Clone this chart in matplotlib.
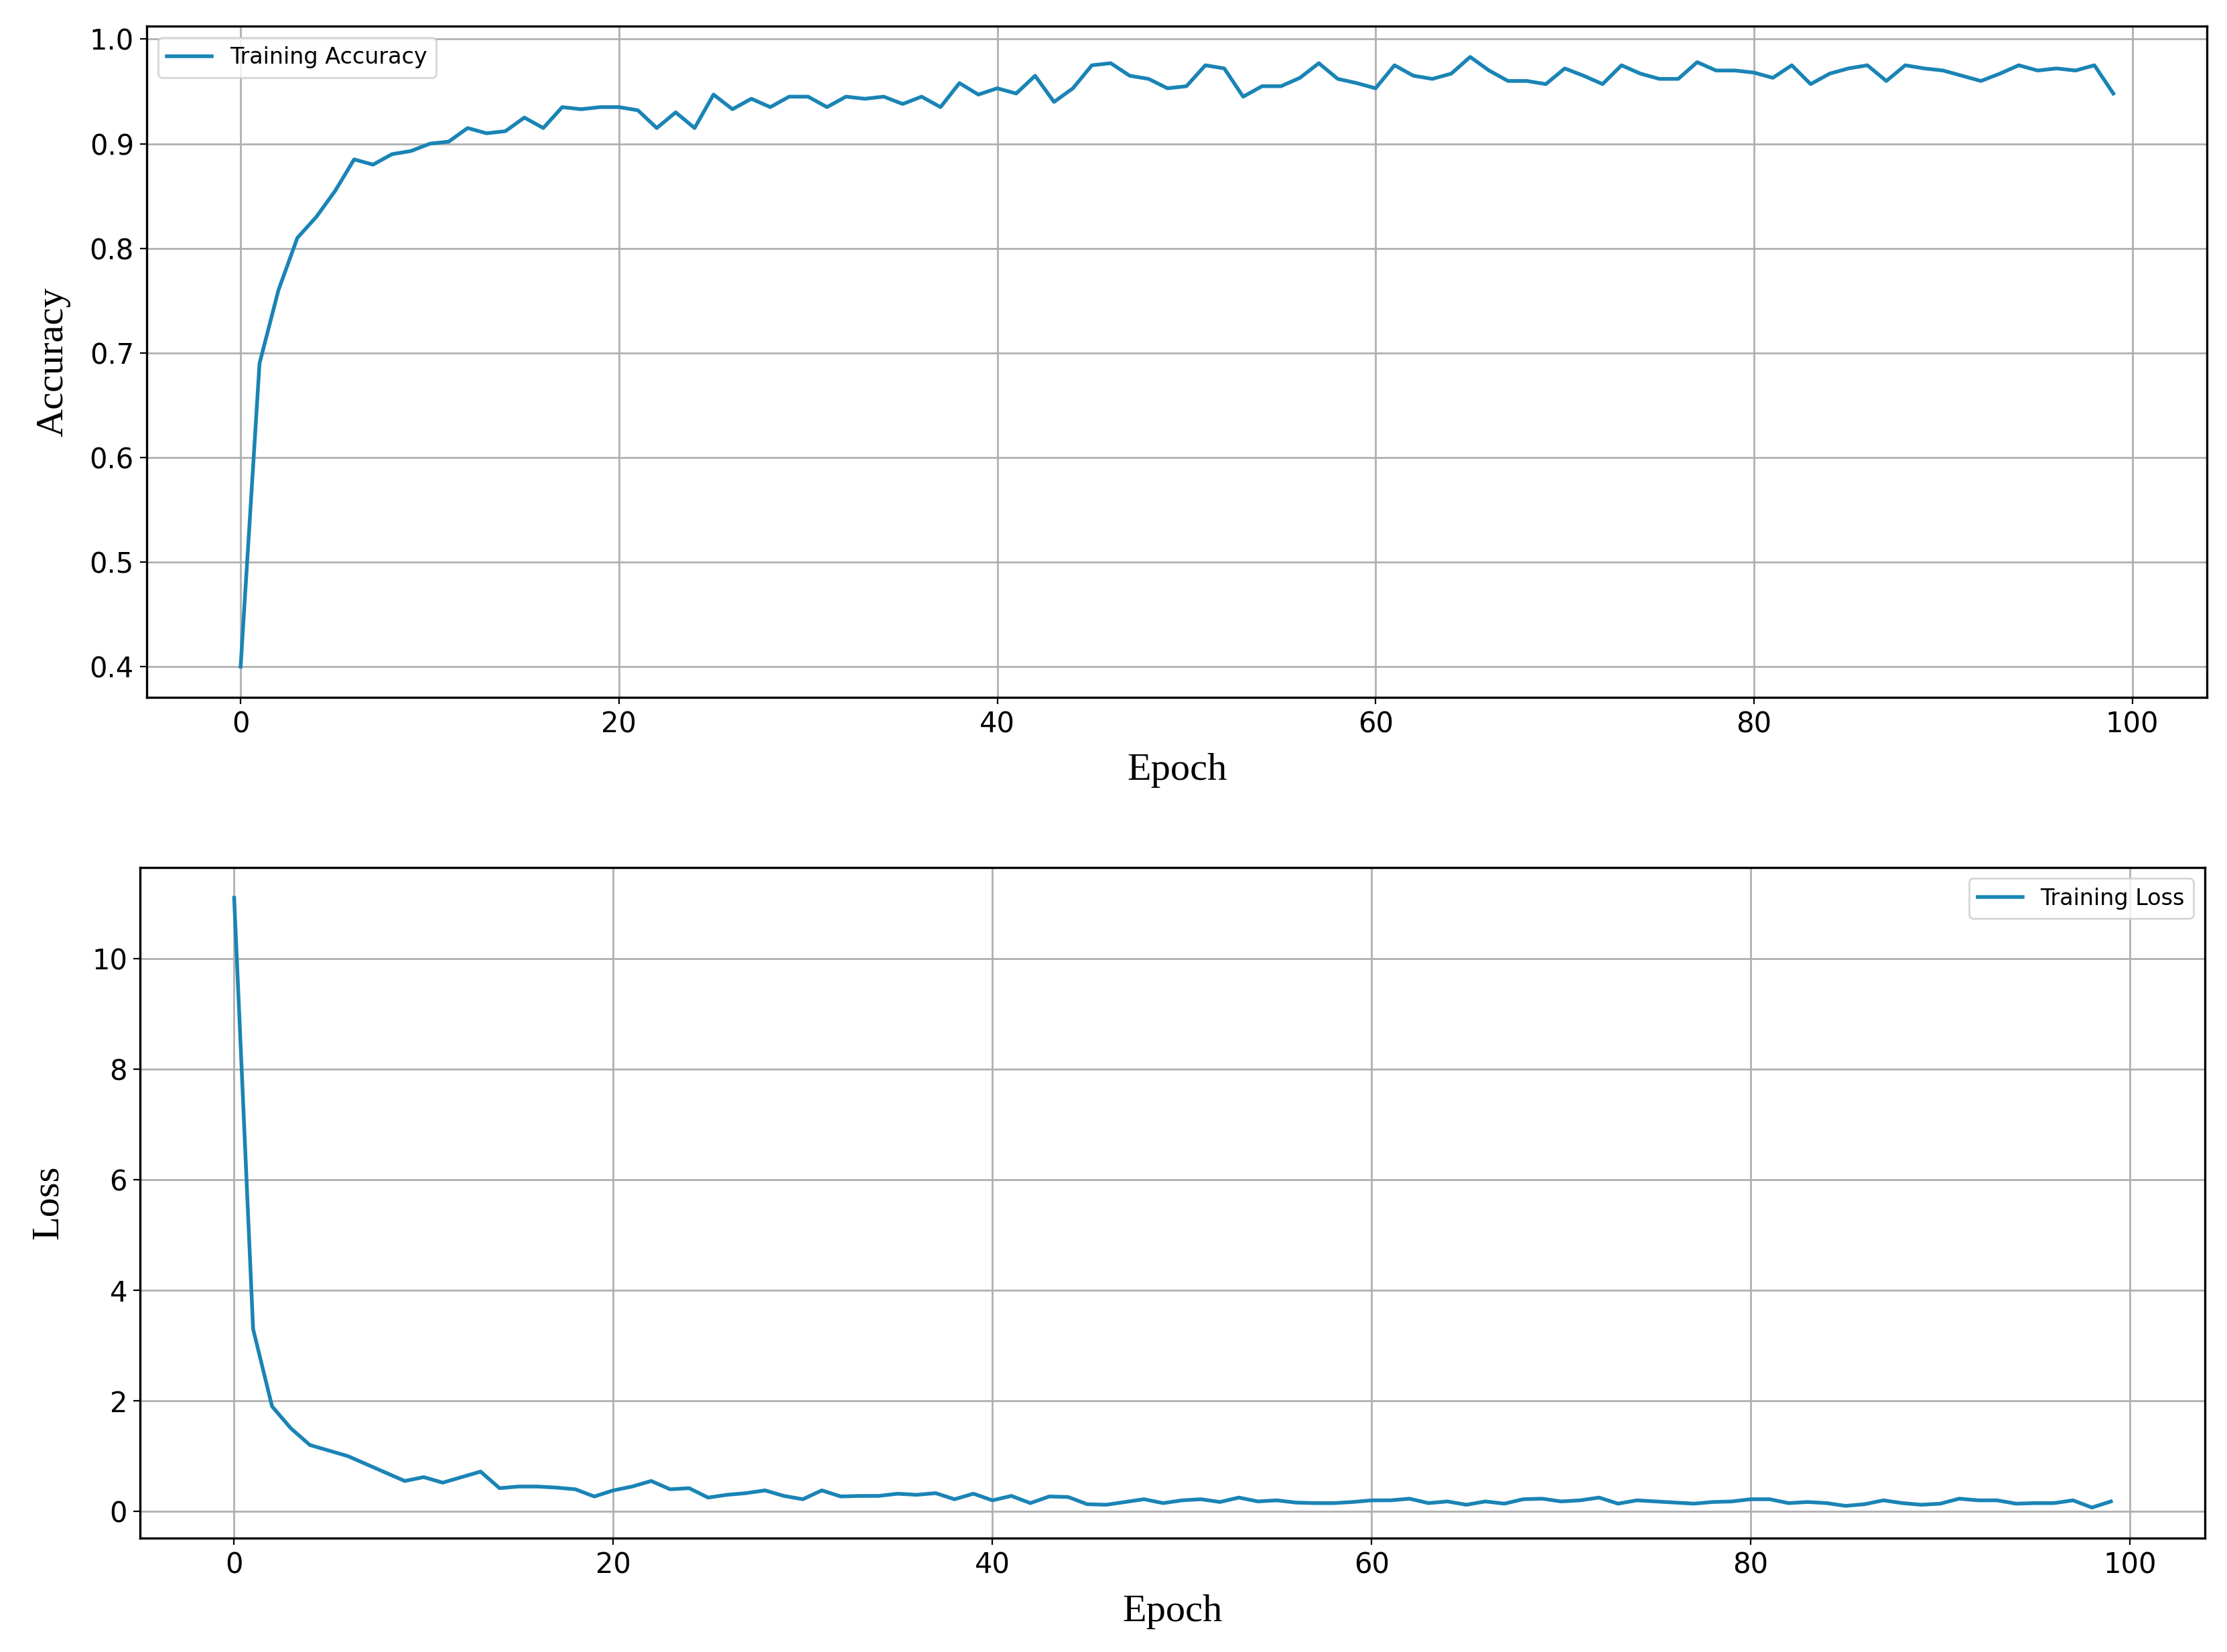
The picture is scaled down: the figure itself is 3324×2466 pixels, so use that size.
import matplotlib
matplotlib.use("Agg")
import matplotlib.pyplot as plt
import numpy as np

epochs = np.arange(100)

train_acc = [
    0.40, 0.69, 0.76, 0.81, 0.83, 0.855, 0.885, 0.88, 0.89, 0.893,
    0.90, 0.902, 0.915, 0.91, 0.912, 0.925, 0.915, 0.935, 0.933, 0.935,
    0.935, 0.932, 0.915, 0.93, 0.915, 0.947, 0.933, 0.943, 0.935, 0.945,
    0.945, 0.935, 0.945, 0.943, 0.945, 0.938, 0.945, 0.935, 0.958, 0.947,
    0.953, 0.948, 0.965, 0.94, 0.953, 0.975, 0.977, 0.965, 0.962, 0.953,
    0.955, 0.975, 0.972, 0.945, 0.955, 0.955, 0.963, 0.977, 0.962, 0.958,
    0.953, 0.975, 0.965, 0.962, 0.967, 0.983, 0.97, 0.96, 0.96, 0.957,
    0.972, 0.965, 0.957, 0.975, 0.967, 0.962, 0.962, 0.978, 0.97, 0.97,
    0.968, 0.963, 0.975, 0.957, 0.967, 0.972, 0.975, 0.96, 0.975, 0.972,
    0.97, 0.965, 0.96, 0.967, 0.975, 0.97, 0.972, 0.97, 0.975, 0.948,
]

train_loss = [
    11.1, 3.3, 1.9, 1.5, 1.2, 1.1, 1.0, 0.85, 0.7, 0.55,
    0.62, 0.52, 0.62, 0.72, 0.42, 0.45, 0.45, 0.43, 0.4, 0.27,
    0.38, 0.45, 0.55, 0.4, 0.42, 0.25, 0.3, 0.33, 0.38, 0.28,
    0.22, 0.38, 0.27, 0.28, 0.28, 0.32, 0.3, 0.33, 0.22, 0.32,
    0.2, 0.28, 0.15, 0.27, 0.26, 0.13, 0.12, 0.17, 0.22, 0.15,
    0.2, 0.22, 0.17, 0.25, 0.18, 0.2, 0.16, 0.15, 0.15, 0.17,
    0.2, 0.2, 0.23, 0.15, 0.18, 0.12, 0.18, 0.14, 0.22, 0.23,
    0.18, 0.2, 0.25, 0.14, 0.2, 0.18, 0.16, 0.14, 0.17, 0.18,
    0.22, 0.22, 0.15, 0.17, 0.15, 0.1, 0.13, 0.2, 0.15, 0.12,
    0.14, 0.23, 0.2, 0.2, 0.14, 0.15, 0.15, 0.2, 0.07, 0.18,
]

color = "#1a84b5"
label_font = {"family": "Liberation Serif", "size": 21}

fig = plt.figure(figsize=(16.62, 12.33), dpi=200)
ax1 = fig.add_axes([0.066, 0.578, 0.925, 0.406])
ax2 = fig.add_axes([0.063, 0.069, 0.927, 0.406])

# Accuracy
ax1.plot(epochs, train_acc, color=color, lw=2, label="Training Accuracy")
ax1.set_ylabel("Accuracy", fontdict=label_font, labelpad=10)
ax1.set_xlabel("Epoch", fontdict=label_font, labelpad=8)
ax1.legend(loc="upper left", fontsize=12)

# Loss
ax2.plot(epochs, train_loss, color=color, lw=2, label="Training Loss")
ax2.set_ylabel("Loss", fontdict=label_font, labelpad=14)
ax2.set_xlabel("Epoch", fontdict=label_font, labelpad=8)
ax2.legend(loc="upper right", fontsize=12)

for ax in (ax1, ax2):
    ax.grid(True, color="#b0b0b0", lw=1)
    ax.tick_params(labelsize=15)
    for s in ax.spines.values():
        s.set_linewidth(1.2)

fig.savefig("out.png", dpi=200)
